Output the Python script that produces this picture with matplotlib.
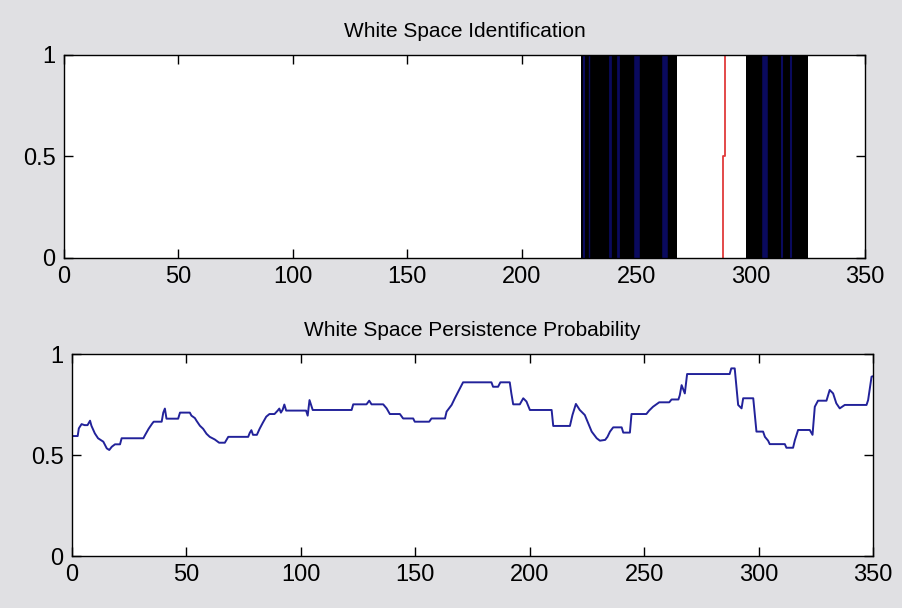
import numpy as np
import matplotlib.pyplot as plt

plt.rcParams['font.family'] = ['Liberation Sans', 'DejaVu Sans']

# top panel: occupied spans (black), faint blue edges inside them, red marker
busy_start = [226, 298]
busy_end = [268, 325]
edge_x = [227, 229.5, 238.5, 242.2, 250.2, 262.6, 306.3, 313.8, 317.5]
edge_w = [1.5, 1.0, 2.0, 2.0, 4.0, 4.0, 4.0, 1.5, 1.5]
marker_x = [288, 288, 288.8, 288.8]
marker_y = [0, 0.5, 0.5, 1]

# bottom panel: persistence probability
prob_x = [0, 2.5, 3.0, 4.2, 5.5, 6.8, 7.9, 8.5, 10.0, 11.4, 13.7, 15.2, 16.3,
          17.4, 18.8, 21.0, 21.7, 31.2, 32.0, 33.5, 35.0, 35.7, 39.2, 39.9,
          40.6, 41.3, 46.4, 47.2, 51.5, 52.2, 53.7, 54.4, 55.9, 57.3, 58.8,
          60.2, 62.4, 64.3, 66.8, 68.3, 77.0, 77.7, 78.4, 79.1, 80.8, 82.0,
          83.4, 84.9, 86.3, 88.5, 89.9, 90.6, 91.3, 92.1, 92.8, 93.6, 102.3,
          103.0, 103.8, 105.2, 122.2, 122.9, 128.7, 129.9, 130.9, 136.0,
          137.5, 138.9, 143.3, 144.7, 149.1, 149.8, 156.1, 157.1, 163.0,
          163.7, 165.9, 167.3, 169.5, 170.9, 183.3, 184.0, 186.2, 187.2,
          191.3, 192.0, 192.8, 195.7, 197.2, 198.6, 200.1, 209.6, 210.3,
          217.6, 218.7, 220.2, 221.9, 224.1, 225.6, 227.1, 229.3, 230.7,
          233.0, 234.0, 235.1, 236.5, 240.2, 240.9, 243.8, 244.5, 251.0,
          252.2, 253.9, 256.6, 261.0, 262.0, 265.0, 265.6, 266.4, 267.8,
          268.8, 287.4, 288.1, 289.6, 290.4, 291.1, 292.6, 293.3, 297.7,
          298.4, 299.1, 302.0, 302.8, 304.2, 304.9, 311.5, 312.2, 315.1,
          315.9, 317.3, 322.4, 323.6, 324.6, 326.0, 329.7, 331.1, 332.6,
          334.0, 335.5, 337.7, 347.2, 347.9, 349.4, 350.0]
prob_y = [0.594, 0.594, 0.632, 0.653, 0.648, 0.648, 0.67, 0.645, 0.607, 0.583,
          0.566, 0.533, 0.525, 0.541, 0.553, 0.553, 0.583, 0.583, 0.60, 0.63,
          0.655, 0.665, 0.665, 0.71, 0.73, 0.68, 0.68, 0.71, 0.71, 0.695,
          0.683, 0.67, 0.645, 0.63, 0.605, 0.59, 0.577, 0.561, 0.561, 0.59,
          0.59, 0.61, 0.623, 0.60, 0.60, 0.63, 0.66, 0.69, 0.703, 0.703,
          0.72, 0.73, 0.71, 0.725, 0.75, 0.72, 0.72, 0.695, 0.772, 0.723,
          0.723, 0.751, 0.751, 0.769, 0.751, 0.751, 0.731, 0.703, 0.703,
          0.681, 0.681, 0.665, 0.665, 0.681, 0.681, 0.715, 0.748, 0.781,
          0.83, 0.86, 0.86, 0.838, 0.838, 0.86, 0.86, 0.805, 0.751, 0.751,
          0.781, 0.765, 0.723, 0.723, 0.644, 0.644, 0.698, 0.753, 0.723,
          0.698, 0.657, 0.616, 0.583, 0.571, 0.575, 0.59, 0.616, 0.637,
          0.637, 0.611, 0.611, 0.703, 0.703, 0.72, 0.739, 0.761, 0.761,
          0.775, 0.775, 0.796, 0.846, 0.805, 0.901, 0.901, 0.929, 0.929,
          0.83, 0.748, 0.731, 0.781, 0.781, 0.698, 0.616, 0.616, 0.59,
          0.571, 0.554, 0.554, 0.536, 0.536, 0.574, 0.624, 0.624, 0.60,
          0.739, 0.769, 0.769, 0.822, 0.805, 0.756, 0.731, 0.748, 0.748,
          0.772, 0.888, 0.89]

xticks = [0, 50, 100, 150, 200, 250, 300, 350]
yticks = [0, 0.5, 1]
ylabels = ['0', '0.5', '1']

fig = plt.figure(figsize=(9.03, 6.08), dpi=100, facecolor='#e0e0e3')
ax1 = fig.add_axes([0.0709, 0.5757, 0.887, 0.3339])
ax2 = fig.add_axes([0.0797, 0.0855, 0.887, 0.3322])

for s, e in zip(busy_start, busy_end):
    ax1.axvspan(s, e, ymin=0, ymax=1, color='black', lw=0)
for xe, w in zip(edge_x, edge_w):
    ax1.axvline(xe, color='#0a0a5e', lw=w)
ax1.plot(marker_x, marker_y, color='#e03a3a', lw=1.3)
ax1.set_title('White Space Identification', fontsize=15, pad=13)

ax2.plot(prob_x, prob_y, color='#22229a', lw=1.4)
ax2.set_title('White Space Persistence Probability', fontsize=15, pad=13)

for ax in (ax1, ax2):
    ax.set_xlim(0, 350)
    ax.set_ylim(0, 1)
    ax.set_xticks(xticks)
    ax.set_yticks(yticks)
    ax.set_yticklabels(ylabels)
    ax.tick_params(direction='in', length=6.5, width=1, top=True, right=True,
                   labelsize=17, pad=6)
    for sp in ax.spines.values():
        sp.set_linewidth(1)

fig.savefig('out.png', dpi=100, facecolor=fig.get_facecolor())
